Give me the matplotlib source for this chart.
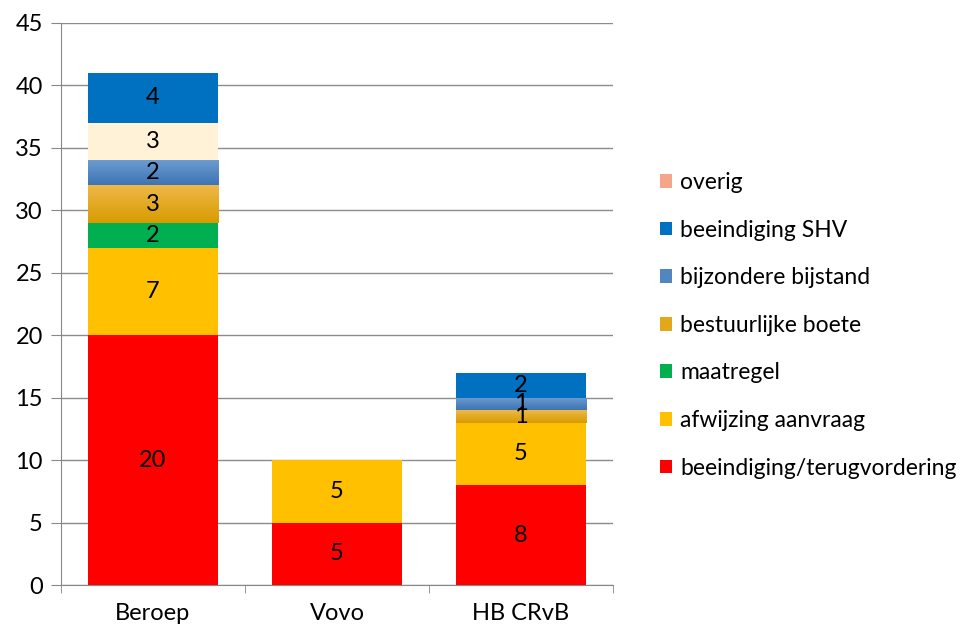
import matplotlib.pyplot as plt
import numpy as np
from matplotlib.colors import LinearSegmentedColormap
from matplotlib.patches import Patch

categories = ['Beroep', 'Vovo', 'HB CRvB']

# series from bottom to top
terugvordering = [20, 5, 8]
afwijzing = [7, 5, 5]
maatregel = [2, 0, 0]
boete = [3, 0, 1]
bijstand = [2, 0, 1]
onbekend = [3, 0, 0]
shv = [4, 0, 2]
overig = [0, 0, 0]

series = [
    ('beeindiging/terugvordering', terugvordering, '#FF0000', None),
    ('afwijzing aanvraag', afwijzing, '#FFC000', None),
    ('maatregel', maatregel, '#00B050', None),
    ('bestuurlijke boete', boete, '#E3A71C', ('#EEB848', '#D89C00')),
    ('bijzondere bijstand', bijstand, '#5286C0', ('#6C9BD0', '#3D74B3')),
    (None, onbekend, '#FFF2D6', None),
    ('beeindiging SHV', shv, '#0070C0', None),
    ('overig', overig, '#F4A58A', None),
]

plt.rcParams['font.family'] = ['Lato', 'DejaVu Sans']
fs = 17

fig = plt.figure(figsize=(9.8, 6.33), dpi=100)
ax = fig.add_axes([0.0622, 0.0758, 0.5633, 0.888])

x = np.arange(len(categories))
width = 0.707
bottom = np.zeros(len(categories))
handles = []
for name, vals, col, grad in series:
    vals = np.array(vals, dtype=float)
    bars = ax.bar(x, vals, width, bottom=bottom, color=col, zorder=3)
    if name is not None:
        handles.append(Patch(facecolor=col, label=name))
    if grad is not None:
        cmap = LinearSegmentedColormap.from_list('g', [grad[1], grad[0]])
        for b in bars:
            if b.get_height() <= 0:
                continue
            b.set_facecolor('none')
            x0, y0 = b.get_x(), b.get_y()
            im = ax.imshow(np.linspace(0, 1, 50).reshape(-1, 1), cmap=cmap, aspect='auto',
                           origin='lower', extent=[x0, x0 + b.get_width(), y0, y0 + b.get_height()],
                           zorder=2.9)
            im.set_clip_path(b)
    for xi, v, b0 in zip(x, vals, bottom):
        if v > 0:
            ax.text(xi, b0 + v / 2, '%d' % v, ha='center', va='center', fontsize=fs,
                    color='black', zorder=4)
    bottom += vals

ax.set_xlim(-0.5, 2.5)
ax.set_ylim(0, 45)
ax.set_yticks(range(0, 46, 5))
ax.set_xticks(x)
ax.set_xticklabels(categories)
ax.set_xticks([-0.5, 0.5, 1.5, 2.5], minor=True)
ax.tick_params(axis='x', which='major', length=0, pad=13, labelsize=fs)
ax.tick_params(axis='x', which='minor', length=6, color='#888888')
ax.tick_params(axis='y', length=7, color='#888888', labelsize=fs, pad=6)
ax.grid(axis='y', color='#8c8c8c', linewidth=1, zorder=0)
ax.set_axisbelow(True)
for s in ['top', 'right']:
    ax.spines[s].set_visible(False)
ax.spines['left'].set_color('#888888')
ax.spines['bottom'].set_color('#888888')

ax.legend(handles[::-1], [h.get_label() for h in handles[::-1]], loc='center left',
          bbox_to_anchor=(1.064, 0.462), frameon=False, fontsize=16.5, handlelength=0.55,
          handleheight=0.55, handletextpad=0.35, labelspacing=1.16, borderpad=0)

plt.savefig('out.png', dpi=100)
